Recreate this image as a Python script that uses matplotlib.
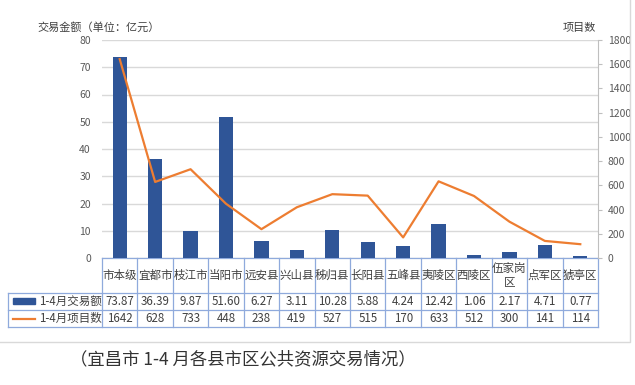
import matplotlib
matplotlib.use("Agg")
import matplotlib.pyplot as plt
from matplotlib.lines import Line2D
from matplotlib.patches import Rectangle

plt.rcParams['font.family'] = ['Noto Sans CJK SC', 'DejaVu Sans']

categories = ["市本级", "宜都市", "枝江市", "当阳市", "远安县", "兴山县", "秭归县",
              "长阳县", "五峰县", "夷陵区", "西陵区", "伍家岗\n区", "点军区", "猇亭区"]
amount = [73.87, 36.39, 9.87, 51.60, 6.27, 3.11, 10.28, 5.88, 4.24, 12.42, 1.06, 2.17, 4.71, 0.77]
amount_labels = ["73.87", "36.39", "9.87", "51.60", "6.27", "3.11", "10.28", "5.88",
                 "4.24", "12.42", "1.06", "2.17", "4.71", "0.77"]
projects = [1642, 628, 733, 448, 238, 419, 527, 515, 170, 633, 512, 300, 141, 114]
series_names = ["1-4月交易额", "1-4月项目数"]
left_title = "交易金额（单位：亿元）"
right_title = "项目数"
caption = "（宜昌市 1-4 月各县市区公共资源交易情况）"

W, H = 635, 385
fig = plt.figure(figsize=(W / 100, H / 100), dpi=100)
x0, x1, ytop, ybot = 102, 598, 40, 258
ax = fig.add_axes([x0 / W, 1 - ybot / H, (x1 - x0) / W, (ybot - ytop) / H])
ax2 = ax.twinx()

bar_c = "#2F5597"
line_c = "#ED7D31"
grid_c = "#D9D9D9"
border_c = "#8FAADC"
text_c = "#404040"
tick_c = "#595959"

n = len(categories)
xs = list(range(n))
ax.bar(xs, amount, width=0.4, color=bar_c, zorder=3)
ax.set_xlim(-0.5, n - 0.5)
ax.set_ylim(0, 80)
ax.set_yticks(range(0, 81, 10))
ax.yaxis.grid(True, color=grid_c, linewidth=1, zorder=0)
ax.set_xticks([])
for s in ["left", "top", "bottom", "right"]:
    ax.spines[s].set_visible(False)
ax.tick_params(axis='y', length=0, labelsize=7.5, labelcolor=tick_c, pad=8)

ax2.plot(xs, projects, color=line_c, linewidth=1.6, zorder=4)
ax2.set_ylim(0, 1800)
ax2.set_yticks(range(0, 1801, 200))
for s in ["left", "top", "bottom"]:
    ax2.spines[s].set_visible(False)
ax2.spines["right"].set_color("#BFBFBF")
ax2.tick_params(axis='y', length=3, color="#BFBFBF", labelsize=7.5, labelcolor=tick_c, pad=4)

fig.text(37 / W, 1 - 27 / H, left_title, fontsize=8, color=text_c, va='center', ha='left')
fig.text(596 / W, 1 - 28 / H, right_title, fontsize=8, color=text_c, va='center', ha='right')

# Data table below the plot (axes coordinates on y, data on x)
axh = ybot - ytop
def ay(py):
    return -(py - ybot) / axh

r0, r1, r2, r3 = ay(258), ay(293), ay(310), ay(327)
left_x = -0.5 - (x0 - 8) / ((x1 - x0) / n)
trans = ax.get_xaxis_transform()
lw = 0.9
def hline(xa, xb, y):
    ax.add_line(Line2D([xa, xb], [y, y], transform=trans, color=border_c, lw=lw, clip_on=False))
def vline(x, ya, yb):
    ax.add_line(Line2D([x, x], [ya, yb], transform=trans, color=border_c, lw=lw, clip_on=False))

hline(-0.5, n - 0.5, r0)
hline(left_x, n - 0.5, r1)
hline(left_x, n - 0.5, r2)
hline(left_x, n - 0.5, r3)
for i in range(n + 1):
    vline(i - 0.5, r0, r3)
vline(left_x, r1, r3)

for i, c in enumerate(categories):
    ax.text(i, (r0 + r1) / 2, c, transform=trans, ha='center', va='center',
            fontsize=8.3, color=text_c, clip_on=False, linespacing=1.15)
    ax.text(i, (r1 + r2) / 2, amount_labels[i], transform=trans, ha='center', va='center',
            fontsize=8.3, color=text_c, clip_on=False)
    ax.text(i, (r2 + r3) / 2, str(projects[i]), transform=trans, ha='center', va='center',
            fontsize=8.3, color=text_c, clip_on=False)

# legend keys in table
fig.patches.append(Rectangle((13 / W, 1 - 304 / H), 22 / W, 6 / H, transform=fig.transFigure,
                             color=bar_c))
fig.lines.append(Line2D([13 / W, 35 / W], [1 - 318.5 / H, 1 - 318.5 / H], transform=fig.transFigure,
                        color=line_c, lw=1.6))
fig.text(39 / W, 1 - 301.5 / H, series_names[0], fontsize=8.3, color=text_c, va='center', ha='left')
fig.text(39 / W, 1 - 318.5 / H, series_names[1], fontsize=8.3, color=text_c, va='center', ha='left')

# outer chart border
fig.lines.append(Line2D([0, 630 / W, 630 / W], [1 - 342 / H, 1 - 342 / H, 1.0],
                        transform=fig.transFigure, color=grid_c, lw=1))

fig.text(243 / W, 1 - 359 / H, caption, fontsize=12.5, color="#333333", ha='center', va='center')

fig.savefig("out.png", dpi=100)
